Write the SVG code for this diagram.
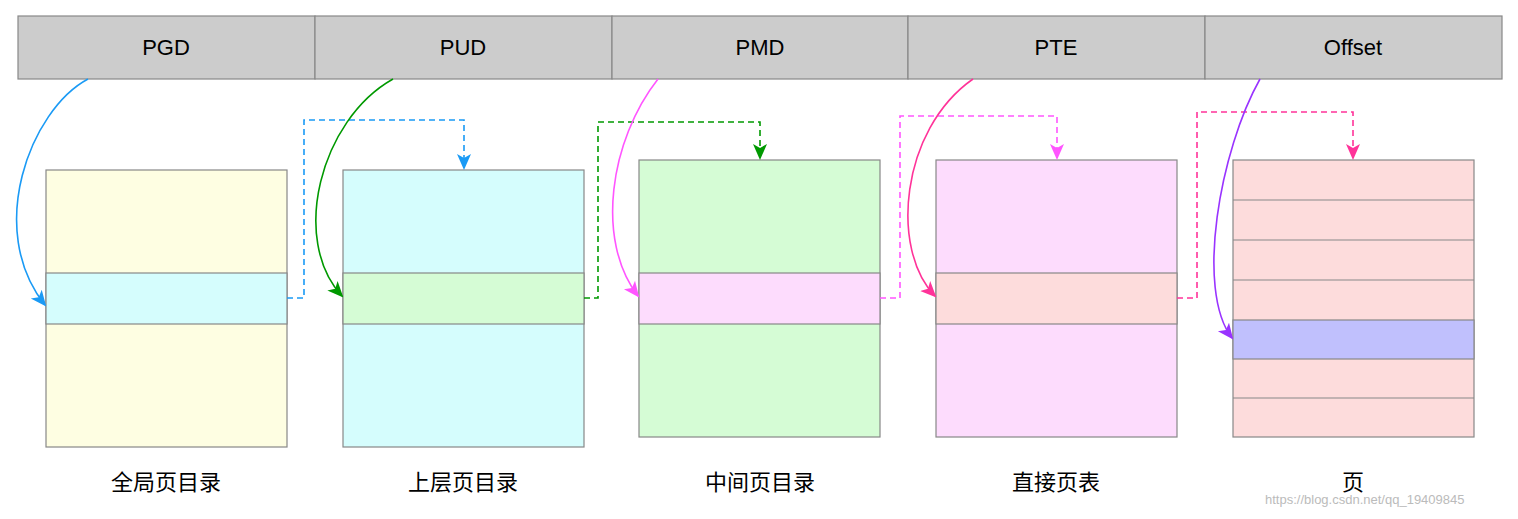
<svg xmlns="http://www.w3.org/2000/svg" width="1518" height="519" viewBox="0 0 1518 519">
<style>
.c{fill:#cccccc;stroke:#888;stroke-width:1.2}
.b{stroke:#888;stroke-width:1.2}
.t{font-family:"Liberation Sans",Arial,sans-serif;font-size:22px;text-anchor:middle;fill:#000}
.z{font-family:"Liberation Sans","Noto Sans CJK SC",sans-serif;font-size:22px;text-anchor:middle;fill:#000}
.l{fill:none;stroke-width:1.6}
.d{fill:none;stroke-width:1.6;stroke-dasharray:6,4}
</style>
<defs>
<marker id="mb" markerWidth="16" markerHeight="16" refX="14" refY="8" orient="auto" markerUnits="userSpaceOnUse" viewBox="0 0 16 16"><path d="M0,1L16,8L0,15L4,8z" fill="#1a9af5"/></marker>
<marker id="mg" markerWidth="16" markerHeight="16" refX="14" refY="8" orient="auto" markerUnits="userSpaceOnUse" viewBox="0 0 16 16"><path d="M0,1L16,8L0,15L4,8z" fill="#009900"/></marker>
<marker id="mm" markerWidth="16" markerHeight="16" refX="14" refY="8" orient="auto" markerUnits="userSpaceOnUse" viewBox="0 0 16 16"><path d="M0,1L16,8L0,15L4,8z" fill="#ff55ff"/></marker>
<marker id="mr" markerWidth="16" markerHeight="16" refX="14" refY="8" orient="auto" markerUnits="userSpaceOnUse" viewBox="0 0 16 16"><path d="M0,1L16,8L0,15L4,8z" fill="#ff3399"/></marker>
<marker id="mp" markerWidth="16" markerHeight="16" refX="14" refY="8" orient="auto" markerUnits="userSpaceOnUse" viewBox="0 0 16 16"><path d="M0,1L16,8L0,15L4,8z" fill="#9933ff"/></marker>
</defs>
<rect width="1518" height="519" fill="#fff"/>
<g id="addr">
<rect class="c" x="18" y="16" width="297" height="63"/><text class="t" x="166" y="55">PGD</text>
<rect class="c" x="315" y="16" width="297" height="63"/><text class="t" x="463" y="55">PUD</text>
<rect class="c" x="612" y="16" width="296" height="63"/><text class="t" x="760" y="55">PMD</text>
<rect class="c" x="908" y="16" width="297" height="63"/><text class="t" x="1056" y="55">PTE</text>
<rect class="c" x="1205" y="16" width="297" height="63"/><text class="t" x="1353" y="55">Offset</text>
</g>
<g id="pgd">
<rect class="b" x="46" y="170" width="241" height="277" fill="#fefee2"/>
<rect class="b" x="46" y="273" width="241" height="51" fill="#d5fdfd"/>
<text class="z" x="166" y="490">全局页目录</text>
</g>
<g id="pud">
<rect class="b" x="343" y="170" width="241" height="277" fill="#d5fdfd"/>
<rect class="b" x="343" y="273" width="241" height="51" fill="#d5fcd5"/>
<text class="z" x="463" y="490">上层页目录</text>
</g>
<g id="pmd">
<rect class="b" x="639" y="160" width="241" height="277" fill="#d5fcd5"/>
<rect class="b" x="639" y="273" width="241" height="51" fill="#fddcfd"/>
<text class="z" x="760" y="490">中间页目录</text>
</g>
<g id="pte">
<rect class="b" x="936" y="160" width="241" height="277" fill="#fddcfd"/>
<rect class="b" x="936" y="273" width="241" height="51" fill="#fddcdc"/>
<text class="z" x="1056" y="490">直接页表</text>
</g>
<g id="page">
<rect class="b" x="1233" y="160" width="241" height="277" fill="#fddcdc"/>
<path class="b" d="M1233,200H1474M1233,240H1474M1233,280H1474M1233,398H1474"/>
<rect class="b" x="1233" y="320" width="241" height="39" fill="#c0c0fd"/>
<text class="z" x="1353" y="490">页</text>
</g>
<g id="connectors">
<path class="l" stroke="#1a9af5" d="M88,79C30,110 -15,230 45,305" marker-end="url(#mb)"/>
<path class="d" stroke="#1a9af5" d="M287,298H304V120H464V168" marker-end="url(#mb)"/>
<path class="l" stroke="#009900" d="M393,79C320,120 290,240 342,296" marker-end="url(#mg)"/>
<path class="d" stroke="#009900" d="M584,298H598V122H760V158" marker-end="url(#mg)"/>
<path class="l" stroke="#ff55ff" d="M658,79C610,140 595,240 638,296" marker-end="url(#mm)"/>
<path class="d" stroke="#ff55ff" d="M880,298H900V116H1057V158" marker-end="url(#mm)"/>
<path class="l" stroke="#ff3399" d="M973,79C900,130 890,250 935,296" marker-end="url(#mr)"/>
<path class="d" stroke="#ff3399" d="M1177,298H1197V112H1353V158" marker-end="url(#mr)"/>
<path class="l" stroke="#9933ff" d="M1260,79C1220,150 1195,290 1232,338" marker-end="url(#mp)"/>
</g>
<text x="1265" y="504" font-family="Liberation Sans,Arial,sans-serif" font-size="13" fill="#bbb">https://blog.csdn.net/qq_19409845</text>
</svg>
